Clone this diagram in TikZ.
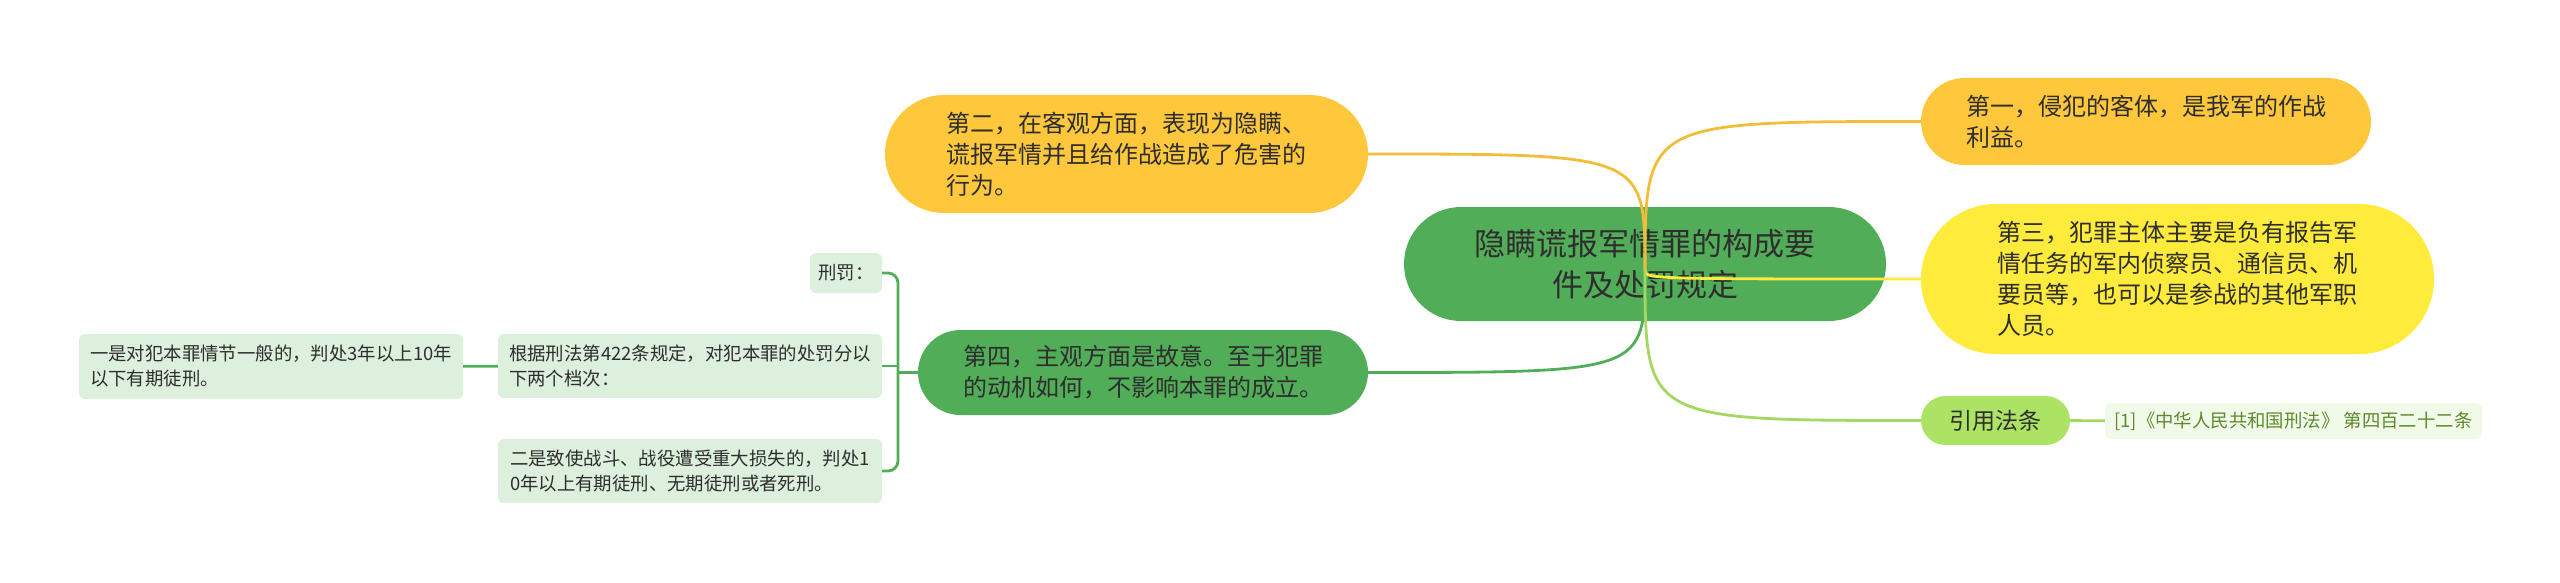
\documentclass[tikz,border=0pt]{standalone}
\usepackage{fontspec}
\setmainfont{Noto Sans CJK SC}
\usetikzlibrary{shapes.misc}
\definecolor{rootg}{HTML}{52AD59}
\definecolor{orng}{HTML}{FFC83C}
\definecolor{yelw}{HTML}{FFEB3B}
\definecolor{lgrn}{HTML}{ADE365}
\definecolor{pale}{HTML}{DDEFDD}
\definecolor{citebg}{HTML}{F1F9E8}
\definecolor{citetx}{HTML}{5E8A2E}
\definecolor{txt}{HTML}{2E2E2E}
\begin{document}
\begin{tikzpicture}[x=1pt,y=-1pt,
 pill/.style={rounded rectangle,fill=#1,text=txt,align=left,inner sep=0pt,font=\fontsize{24}{31}\selectfont},
 leaf/.style={rectangle,rounded corners=6pt,fill=pale,text=txt,align=left,inner sep=0pt,font=\fontsize{18.4}{25}\selectfont},
 conn/.style={line width=2.8pt,draw=#1}]
\useasboundingbox (0,0) rectangle (2560,583);
\node[pill=rootg,minimum width=482pt,minimum height=114pt,align=center,font=\fontsize{31}{41}\selectfont] (root) at (1645,264) {隐瞒谎报军情罪的构成要\\件及处罚规定};
\node[pill=orng,minimum width=450pt,minimum height=87pt] (n1) at (2146,121.5) {第一，侵犯的客体，是我军的作战\\利益。};
\node[pill=orng,minimum width=483pt,minimum height=118pt] (n2) at (1126.5,154) {第二，在客观方面，表现为隐瞒、\\谎报军情并且给作战造成了危害的\\行为。};
\node[pill=yelw,minimum width=513pt,minimum height=150pt] (n3) at (2177.5,279) {第三，犯罪主体主要是负有报告军\\情任务的军内侦察员、通信员、机\\要员等，也可以是参战的其他军职\\人员。};
\node[pill=rootg,minimum width=450pt,minimum height=85pt] (n4) at (1143,372.5) {第四，主观方面是故意。至于犯罪\\的动机如何，不影响本罪的成立。};
\node[pill=lgrn,minimum width=149pt,minimum height=49pt,font=\fontsize{23}{28}\selectfont] (ref) at (1995.5,420.5) {引用法条};
\node[leaf,fill=citebg,text=citetx,minimum width=377pt,minimum height=36pt] (cite) at (2293.5,421) {[1]《中华人民共和国刑法》 第四百二十二条};
\node[leaf,minimum width=72pt,minimum height=40pt] (p0) at (846,273) {刑罚：};
\node[leaf,minimum width=384pt,minimum height=64pt] (p1) at (690,366) {根据刑法第422条规定，对犯本罪的处罚分以\\下两个档次：};
\node[leaf,minimum width=384pt,minimum height=64pt] (p2) at (690,471) {二是致使战斗、战役遭受重大损失的，判处1\\0年以上有期徒刑、无期徒刑或者死刑。};
\node[leaf,minimum width=384pt,minimum height=65pt] (q1) at (271,366.5) {一是对犯本罪情节一般的，判处3年以上10年\\以下有期徒刑。};
\coordinate (o) at (1645,270);
\coordinate (k) at (898,372.5);
\draw[conn=rootg] (o) .. controls (1645,372.5) .. (n4.east);
\draw[conn=orng!95!black] (o) .. controls (1645,121.5) .. (n1.west);
\draw[conn=orng!95!black] (o) .. controls (1645,154) .. (n2.east);
\draw[conn=yelw] (o) .. controls (1645,279) .. (n3.west);
\draw[conn=lgrn!95!black] (o) .. controls (1645,420.5) .. (ref.west);
\draw[conn=lgrn!95!black] (ref) -- (cite);
\draw[conn=rootg] (n4.west) -- (k);
\draw[conn=rootg,rounded corners=10pt] (k) |- (p0.east);
\draw[conn=rootg,rounded corners=10pt] (k) |- (p2.east);
\draw[conn=rootg] (k) |- (p1.east);
\draw[conn=rootg] (p1) -- (q1);
\end{tikzpicture}
\end{document}
